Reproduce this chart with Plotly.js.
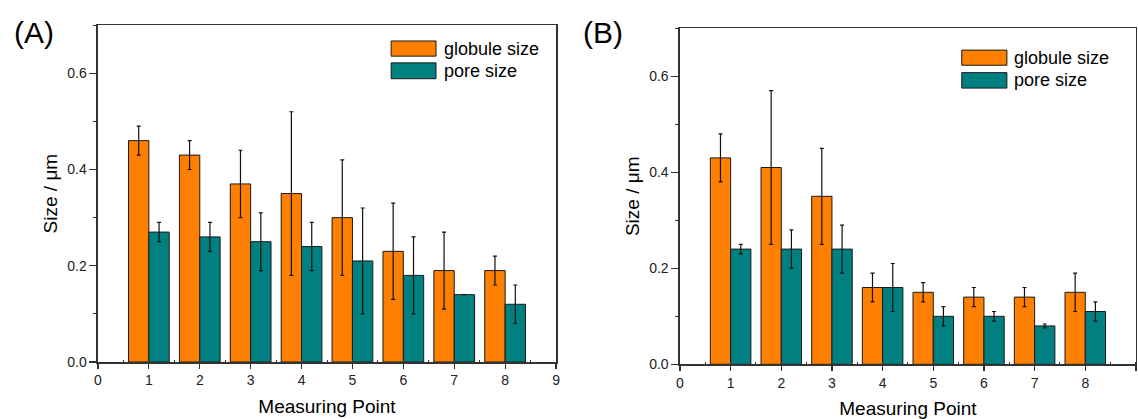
<!DOCTYPE html>
<html>
<head>
<meta charset="utf-8">
<script src="https://cdn.plot.ly/plotly-3.0.1.min.js"></script>
<style>
html,body{margin:0;padding:0;background:#fff;}
#chart{width:1138px;height:419px;}
</style>
</head>
<body>
<div id="chart"></div>
<script>
// ---- data ----
const measuringPoints = [1, 2, 3, 4, 5, 6, 7, 8];
const seriesNames = ['globule size', 'pore size'];

// Panel (A)
const globuleA = [0.46, 0.43, 0.37, 0.35, 0.30, 0.23, 0.19, 0.19];
const globuleErrA = [0.03, 0.03, 0.07, 0.17, 0.12, 0.10, 0.08, 0.03];
const poreA = [0.27, 0.26, 0.25, 0.24, 0.21, 0.18, 0.14, 0.12];
const poreErrA = [0.02, 0.03, 0.06, 0.05, 0.11, 0.08, 0, 0.04];

// Panel (B)
const globuleB = [0.43, 0.41, 0.35, 0.16, 0.15, 0.14, 0.14, 0.15];
const globuleErrB = [0.05, 0.16, 0.10, 0.03, 0.02, 0.02, 0.02, 0.04];
const poreB = [0.24, 0.24, 0.24, 0.16, 0.10, 0.10, 0.08, 0.11];
const poreErrB = [0.01, 0.04, 0.05, 0.05, 0.02, 0.01, 0.004, 0.02];

const xTickVals = [0, 1, 2, 3, 4, 5, 6, 7, 8, 9];
const yTickVals = [0.0, 0.2, 0.4, 0.6];
const panelLabels = ['(A)', '(B)'];
const xTitle = 'Measuring Point';
const yTitle = 'Size / μm';

// ---- style ----
const ORANGE = '#FF8000';
const TEAL = '#008080';
const AXC = '#333333';
const FONT = 'Liberation Sans, Arial, sans-serif';

function barTrace(y, err, color, name, xa, ya) {
  return {
    type: 'bar', x: measuringPoints, y: y, name: name,
    xaxis: xa, yaxis: ya, showlegend: false,
    marker: {color: color, line: {color: '#1a1a1a', width: 1}},
    error_y: {type: 'data', array: err, visible: true, color: '#111', thickness: 1.2, width: 2}
  };
}

const traces = [
  barTrace(globuleA, globuleErrA, ORANGE, seriesNames[0], 'x', 'y'),
  barTrace(poreA, poreErrA, TEAL, seriesNames[1], 'x', 'y'),
  barTrace(globuleB, globuleErrB, ORANGE, seriesNames[0], 'x2', 'y2'),
  barTrace(poreB, poreErrB, TEAL, seriesNames[1], 'x2', 'y2')
];

function mainX(domain, anchor) {
  return {
    domain: domain, anchor: anchor, range: [0, 9], fixedrange: true,
    tickvals: xTickVals, ticks: 'outside', ticklen: 5, tickwidth: 1.2, tickcolor: AXC,
    minor: {dtick: 0.5, tick0: 0, ticks: 'inside', ticklen: 2, tickwidth: 1, tickcolor: AXC},
    showline: true, linecolor: AXC, linewidth: 1.5, mirror: true,
    showgrid: false, zeroline: false,
    tickfont: {family: FONT, size: 14, color: '#222'},
    title: {text: xTitle, font: {family: FONT, size: 19, color: '#000'}, standoff: 12}
  };
}
function topX(overlay, anchor) {
  return {
    overlaying: overlay, anchor: anchor, side: 'top', range: [0, 9], fixedrange: true,
    tickvals: xTickVals, ticks: 'inside', ticklen: 4, tickwidth: 1.2, tickcolor: AXC,
    minor: {dtick: 0.5, tick0: 0, ticks: 'inside', ticklen: 3, tickwidth: 1, tickcolor: AXC},
    showticklabels: false, showline: false, showgrid: false, zeroline: false
  };
}
function mainY(domain, anchor) {
  return {
    domain: domain, anchor: anchor, range: [0, 0.7], fixedrange: true,
    tickvals: yTickVals, tickformat: '.1f', ticks: 'outside', ticklen: 7, tickwidth: 1.2, tickcolor: AXC,
    minor: {dtick: 0.1, tick0: 0, ticks: 'outside', ticklen: 3, tickwidth: 1, tickcolor: AXC},
    showline: true, linecolor: AXC, linewidth: 1.5, mirror: true,
    showgrid: false, zeroline: false,
    tickfont: {family: FONT, size: 14, color: '#222'},
    title: {text: yTitle, font: {family: FONT, size: 19, color: '#000'}, standoff: 4}
  };
}
function rightY(overlay, anchor) {
  return {
    overlaying: overlay, anchor: anchor, side: 'right', range: [0, 0.7], fixedrange: true,
    tickvals: yTickVals, ticks: 'inside', ticklen: 4, tickwidth: 1.2, tickcolor: AXC,
    minor: {dtick: 0.1, tick0: 0, ticks: 'inside', ticklen: 4, tickwidth: 1, tickcolor: AXC},
    showticklabels: false, showline: false, showgrid: false, zeroline: false
  };
}

// legend drawn as boxes + text inside each panel
function legendItems(xa, ya, bx0, bx1, tx, rows) {
  const shapes = [], ann = [];
  rows.forEach((r, i) => {
    shapes.push({type: 'rect', xref: xa + ' domain', yref: ya + ' domain',
      x0: bx0, x1: bx1, y0: r.y0, y1: r.y1,
      fillcolor: [ORANGE, TEAL][i], line: {color: '#1a1a1a', width: 1}});
    ann.push({xref: xa + ' domain', yref: ya + ' domain', x: tx, y: (r.y0 + r.y1) / 2,
      xanchor: 'left', yanchor: 'middle', showarrow: false, text: seriesNames[i],
      font: {family: FONT, size: 18, color: '#000'}});
  });
  return {shapes, ann};
}
const legA = legendItems('x', 'y', 0.640, 0.738, 0.750,
  [{y0: 0.908, y1: 0.953}, {y0: 0.841, y1: 0.888}]);
const legB = legendItems('x2', 'y2', 0.618, 0.717, 0.729,
  [{y0: 0.890, y1: 0.935}, {y0: 0.822, y1: 0.868}]);

const layout = {
  width: 1138, height: 419,
  margin: {l: 0, r: 0, t: 0, b: 0},
  paper_bgcolor: '#fff', plot_bgcolor: '#fff',
  barmode: 'group', bargap: 0.2, bargroupgap: 0,
  showlegend: false,
  font: {family: FONT, color: '#000'},
  xaxis: mainX([0.0861, 0.4886], 'y'),
  yaxis: mainY([0.136, 0.940], 'x'),
  xaxis2: mainX([0.5975, 0.9982], 'y2'),
  yaxis2: mainY([0.1305, 0.9325], 'x2'),
  xaxis3: topX('x', 'y'),
  yaxis3: rightY('y', 'x'),
  xaxis4: topX('x2', 'y2'),
  yaxis4: rightY('y2', 'x2'),
  shapes: legA.shapes.concat(legB.shapes),
  annotations: legA.ann.concat(legB.ann).concat([
    {xref: 'paper', yref: 'paper', x: 0.0105, y: 0.922, xanchor: 'left', yanchor: 'middle',
      showarrow: false, text: panelLabels[0], font: {family: FONT, size: 30, color: '#000'}},
    {xref: 'paper', yref: 'paper', x: 0.5105, y: 0.922, xanchor: 'left', yanchor: 'middle',
      showarrow: false, text: panelLabels[1], font: {family: FONT, size: 30, color: '#000'}}
  ])
};

Plotly.newPlot('chart', traces, layout, {staticPlot: true, displayModeBar: false});
</script>
</body>
</html>
